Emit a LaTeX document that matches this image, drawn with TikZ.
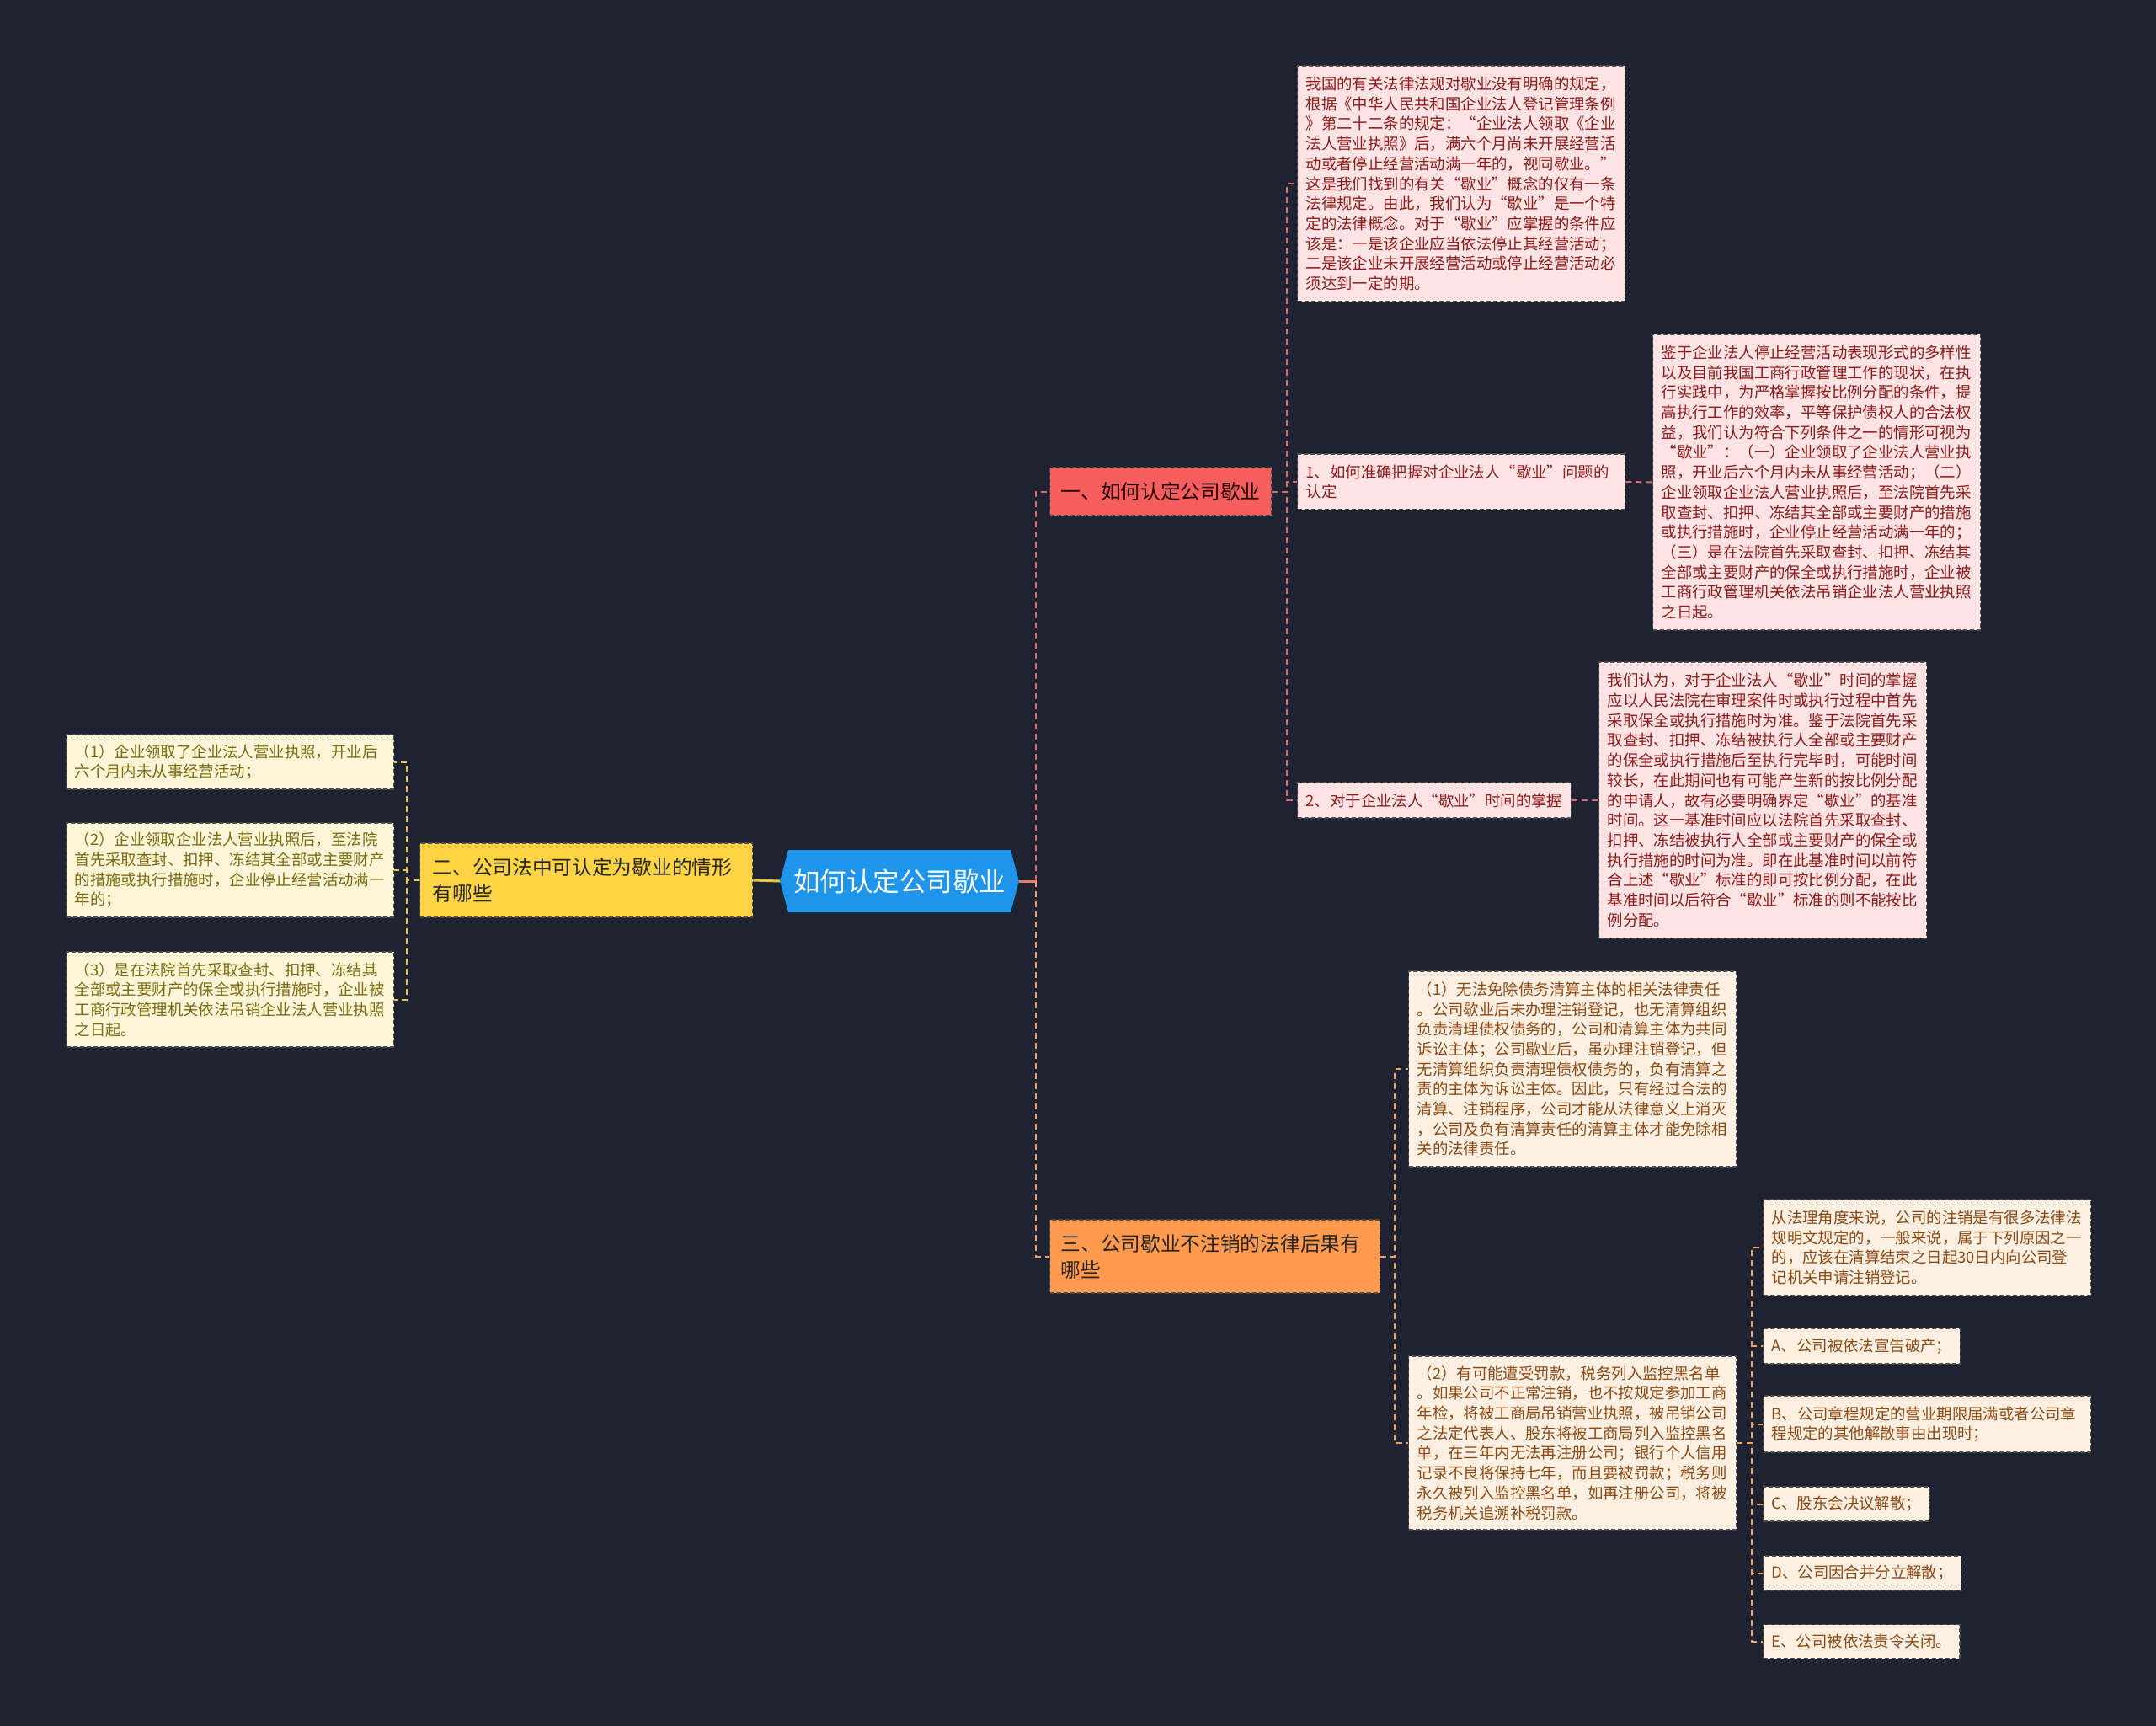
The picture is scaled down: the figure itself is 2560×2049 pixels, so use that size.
\documentclass[tikz,border=0pt]{standalone}
\usepackage{fontspec}
\setmainfont{Noto Sans CJK SC}
\usetikzlibrary{shapes.symbols}

\definecolor{bgdark}{HTML}{1F2230}
\definecolor{rootblue}{HTML}{1E95EA}
\definecolor{topicred}{HTML}{F65E5E}
\definecolor{topicorange}{HTML}{FF9A4F}
\definecolor{topicyellow}{HTML}{FFD444}
\definecolor{leafpink}{HTML}{FDE3E3}
\definecolor{leafpeach}{HTML}{FEEFE3}
\definecolor{leafcream}{HTML}{FCF5D7}
\definecolor{inkred}{HTML}{8E1B1B}
\definecolor{inkbrown}{HTML}{8A4A14}
\definecolor{inkolive}{HTML}{7D6B12}
\definecolor{linkred}{HTML}{E26A6A}
\definecolor{linkorange}{HTML}{F2A25E}
\definecolor{linkyellow}{HTML}{E9C544}

\newcommand{\leaffont}{\fontsize{18.4}{23.7}\selectfont}
\newcommand{\topicfont}{\fontsize{23.7}{31}\selectfont}
\newcommand{\rootfont}{\fontsize{31.5}{36}\selectfont}

\tikzset{
  box/.style={anchor=west, align=left, draw=black!70, line width=1.3pt,
    dash pattern=on 5pt off 3pt, inner xsep=10pt, inner ysep=10pt},
  wide/.style={text width=369pt},
  redleaf/.style={box, fill=leafpink, text=inkred, font=\leaffont},
  peachleaf/.style={box, fill=leafpeach, text=inkbrown, font=\leaffont},
  creamleaf/.style={box, fill=leafcream, text=inkolive, font=\leaffont},
  topic/.style={box, font=\topicfont, inner xsep=13pt},
  root/.style={shape=signal, signal to=east and west, signal pointer angle=150,
    fill=rootblue, text=white, font=\rootfont, minimum width=282pt,
    minimum height=74pt, inner xsep=6pt},
  link/.style={line width=2pt, dash pattern=on 7pt off 5pt},
}

\begin{document}
\begin{tikzpicture}[x=1pt, y=-1pt]
    % 背景
    \fill[bgdark] (0,0) rectangle (2560,2049);
    \useasboundingbox (0,0) rectangle (2560,2049);

    % 中心ノード
    \node[root] (C) at (1068,1046) {如何认定公司歇业};

    % 第一階層
    \node[topic, fill=topicred, text=black!85!red, minimum height=57pt] (R) at (1246,583.5)
      {一、如何认定公司歇业};
    \node[topic, fill=topicorange, text=black!85, text width=366pt, minimum height=87pt] (O) at (1246,1491.5)
      {三、公司歇业不注销的法律后果有\\哪些};
    \node[topic, fill=topicyellow, text=black!85, text width=365pt, inner xsep=15pt, minimum height=88pt] (Y) at (498,1045)
      {二、公司法中可认定为歇业的情形\\有哪些};

    % 一 の子ノード
    \node[redleaf, wide, minimum height=280pt] (P0) at (1540,218) {我国的有关法律法规对歇业没有明确的规定，\\
      根据《中华人民共和国企业法人登记管理条例\\
      》第二十二条的规定：“企业法人领取《企业\\
      法人营业执照》后，满六个月尚未开展经营活\\
      动或者停止经营活动满一年的，视同歇业。”\\
      这是我们找到的有关“歇业”概念的仅有一条\\
      法律规定。由此，我们认为“歇业”是一个特\\
      定的法律概念。对于“歇业”应掌握的条件应\\
      该是：一是该企业应当依法停止其经营活动；\\
      二是该企业未开展经营活动或停止经营活动必\\
      须达到一定的期。};
    \node[redleaf, wide, minimum height=66pt] (P1) at (1540,572)
      {1、如何准确把握对企业法人“歇业”问题的\\认定};
    \node[redleaf, minimum height=42pt] (P2) at (1540,950)
      {2、对于企业法人“歇业”时间的掌握};
    \node[redleaf, wide, minimum height=351pt] (Q1) at (1962,572.5) {鉴于企业法人停止经营活动表现形式的多样性\\
      以及目前我国工商行政管理工作的现状，在执\\
      行实践中，为严格掌握按比例分配的条件，提\\
      高执行工作的效率，平等保护债权人的合法权\\
      益，我们认为符合下列条件之一的情形可视为\\
      “歇业”：（一）企业领取了企业法人营业执\\
      照，开业后六个月内未从事经营活动；（二）\\
      企业领取企业法人营业执照后，至法院首先采\\
      取查封、扣押、冻结其全部或主要财产的措施\\
      或执行措施时，企业停止经营活动满一年的；\\
      （三）是在法院首先采取查封、扣押、冻结其\\
      全部或主要财产的保全或执行措施时，企业被\\
      工商行政管理机关依法吊销企业法人营业执照\\
      之日起。};
    \node[redleaf, wide, minimum height=328pt] (Q2) at (1898,950) {我们认为，对于企业法人“歇业”时间的掌握\\
      应以人民法院在审理案件时或执行过程中首先\\
      采取保全或执行措施时为准。鉴于法院首先采\\
      取查封、扣押、冻结被执行人全部或主要财产\\
      的保全或执行措施后至执行完毕时，可能时间\\
      较长，在此期间也有可能产生新的按比例分配\\
      的申请人，故有必要明确界定“歇业”的基准\\
      时间。这一基准时间应以法院首先采取查封、\\
      扣押、冻结被执行人全部或主要财产的保全或\\
      执行措施的时间为准。即在此基准时间以前符\\
      合上述“歇业”标准的即可按比例分配，在此\\
      基准时间以后符合“歇业”标准的则不能按比\\
      例分配。};

    % 三 の子ノード
    \node[peachleaf, wide, minimum height=232pt] (R1) at (1672,1269) {（1）无法免除债务清算主体的相关法律责任\\
      。公司歇业后未办理注销登记，也无清算组织\\
      负责清理债权债务的，公司和清算主体为共同\\
      诉讼主体；公司歇业后，虽办理注销登记，但\\
      无清算组织负责清理债权债务的，负有清算之\\
      责的主体为诉讼主体。因此，只有经过合法的\\
      清算、注销程序，公司才能从法律意义上消灭\\
      ，公司及负有清算责任的清算主体才能免除相\\
      关的法律责任。};
    \node[peachleaf, wide, minimum height=206pt] (R2) at (1672,1713) {（2）有可能遭受罚款，税务列入监控黑名单\\
      。如果公司不正常注销，也不按规定参加工商\\
      年检，将被工商局吊销营业执照，被吊销公司\\
      之法定代表人、股东将被工商局列入监控黑名\\
      单，在三年内无法再注册公司；银行个人信用\\
      记录不良将保持七年，而且要被罚款；税务则\\
      永久被列入监控黑名单，如再注册公司，将被\\
      税务机关追溯补税罚款。};
    \node[peachleaf, wide, minimum height=114pt] (S0) at (2093,1481) {从法理角度来说，公司的注销是有很多法律法\\
      规明文规定的，一般来说，属于下列原因之一\\
      的，应该在清算结束之日起30日内向公司登\\
      记机关申请注销登记。};
    \node[peachleaf, minimum height=42pt] (SA) at (2093,1598) {A、公司被依法宣告破产；};
    \node[peachleaf, wide, minimum height=67pt] (SB) at (2093,1690.5)
      {B、公司章程规定的营业期限届满或者公司章\\程规定的其他解散事由出现时；};
    \node[peachleaf, minimum height=41pt] (SC) at (2093,1785.5) {C、股东会决议解散；};
    \node[peachleaf, minimum height=41pt] (SD) at (2093,1867.5) {D、公司因合并分立解散；};
    \node[peachleaf, minimum height=40pt] (SE) at (2093,1948.5) {E、公司被依法责令关闭。};

    % 二 の子ノード
    \node[creamleaf, wide, minimum height=65pt] (L1) at (78,904.5)
      {（1）企业领取了企业法人营业执照，开业后\\六个月内未从事经营活动；};
    \node[creamleaf, wide, minimum height=112pt] (L2) at (78,1033) {（2）企业领取企业法人营业执照后，至法院\\
      首先采取查封、扣押、冻结其全部或主要财产\\
      的措施或执行措施时，企业停止经营活动满一\\
      年的；};
    \node[creamleaf, wide, minimum height=113pt] (L3) at (78,1186.5) {（3）是在法院首先采取查封、扣押、冻结其\\
      全部或主要财产的保全或执行措施时，企业被\\
      工商行政管理机关依法吊销企业法人营业执照\\
      之日起。};

    % 接続線
    \draw[linkyellow, line width=3pt] (C.west) -- (Y.east);
    \draw[linkred!60!linkorange, line width=3pt] (C.east) -- ++(20,0) coordinate (T);
    \draw[link, linkred] (T) |- (R.west);
    \draw[link, linkorange] (T) |- (O.west);
    \foreach \n in {P0,P1,P2} {
      \draw[link, linkred] (R.east) -- ++(18,0) |- (\n.west);
    }
    \draw[link, linkred] (P1.east) -- (Q1.west);
    \draw[link, linkred] (P2.east) -- (Q2.west);
    \foreach \n in {R1,R2} {
      \draw[link, linkorange] (O.east) -- ++(17,0) |- (\n.west);
    }
    \foreach \n in {S0,SA,SB,SC,SD,SE} {
      \draw[link, linkorange] (R2.east) -- ++(18,0) |- (\n.west);
    }
    \foreach \n in {L1,L2,L3} {
      \draw[link, linkyellow] (Y.west) -- ++(-15,0) |- (\n.east);
    }
\end{tikzpicture}
\end{document}
